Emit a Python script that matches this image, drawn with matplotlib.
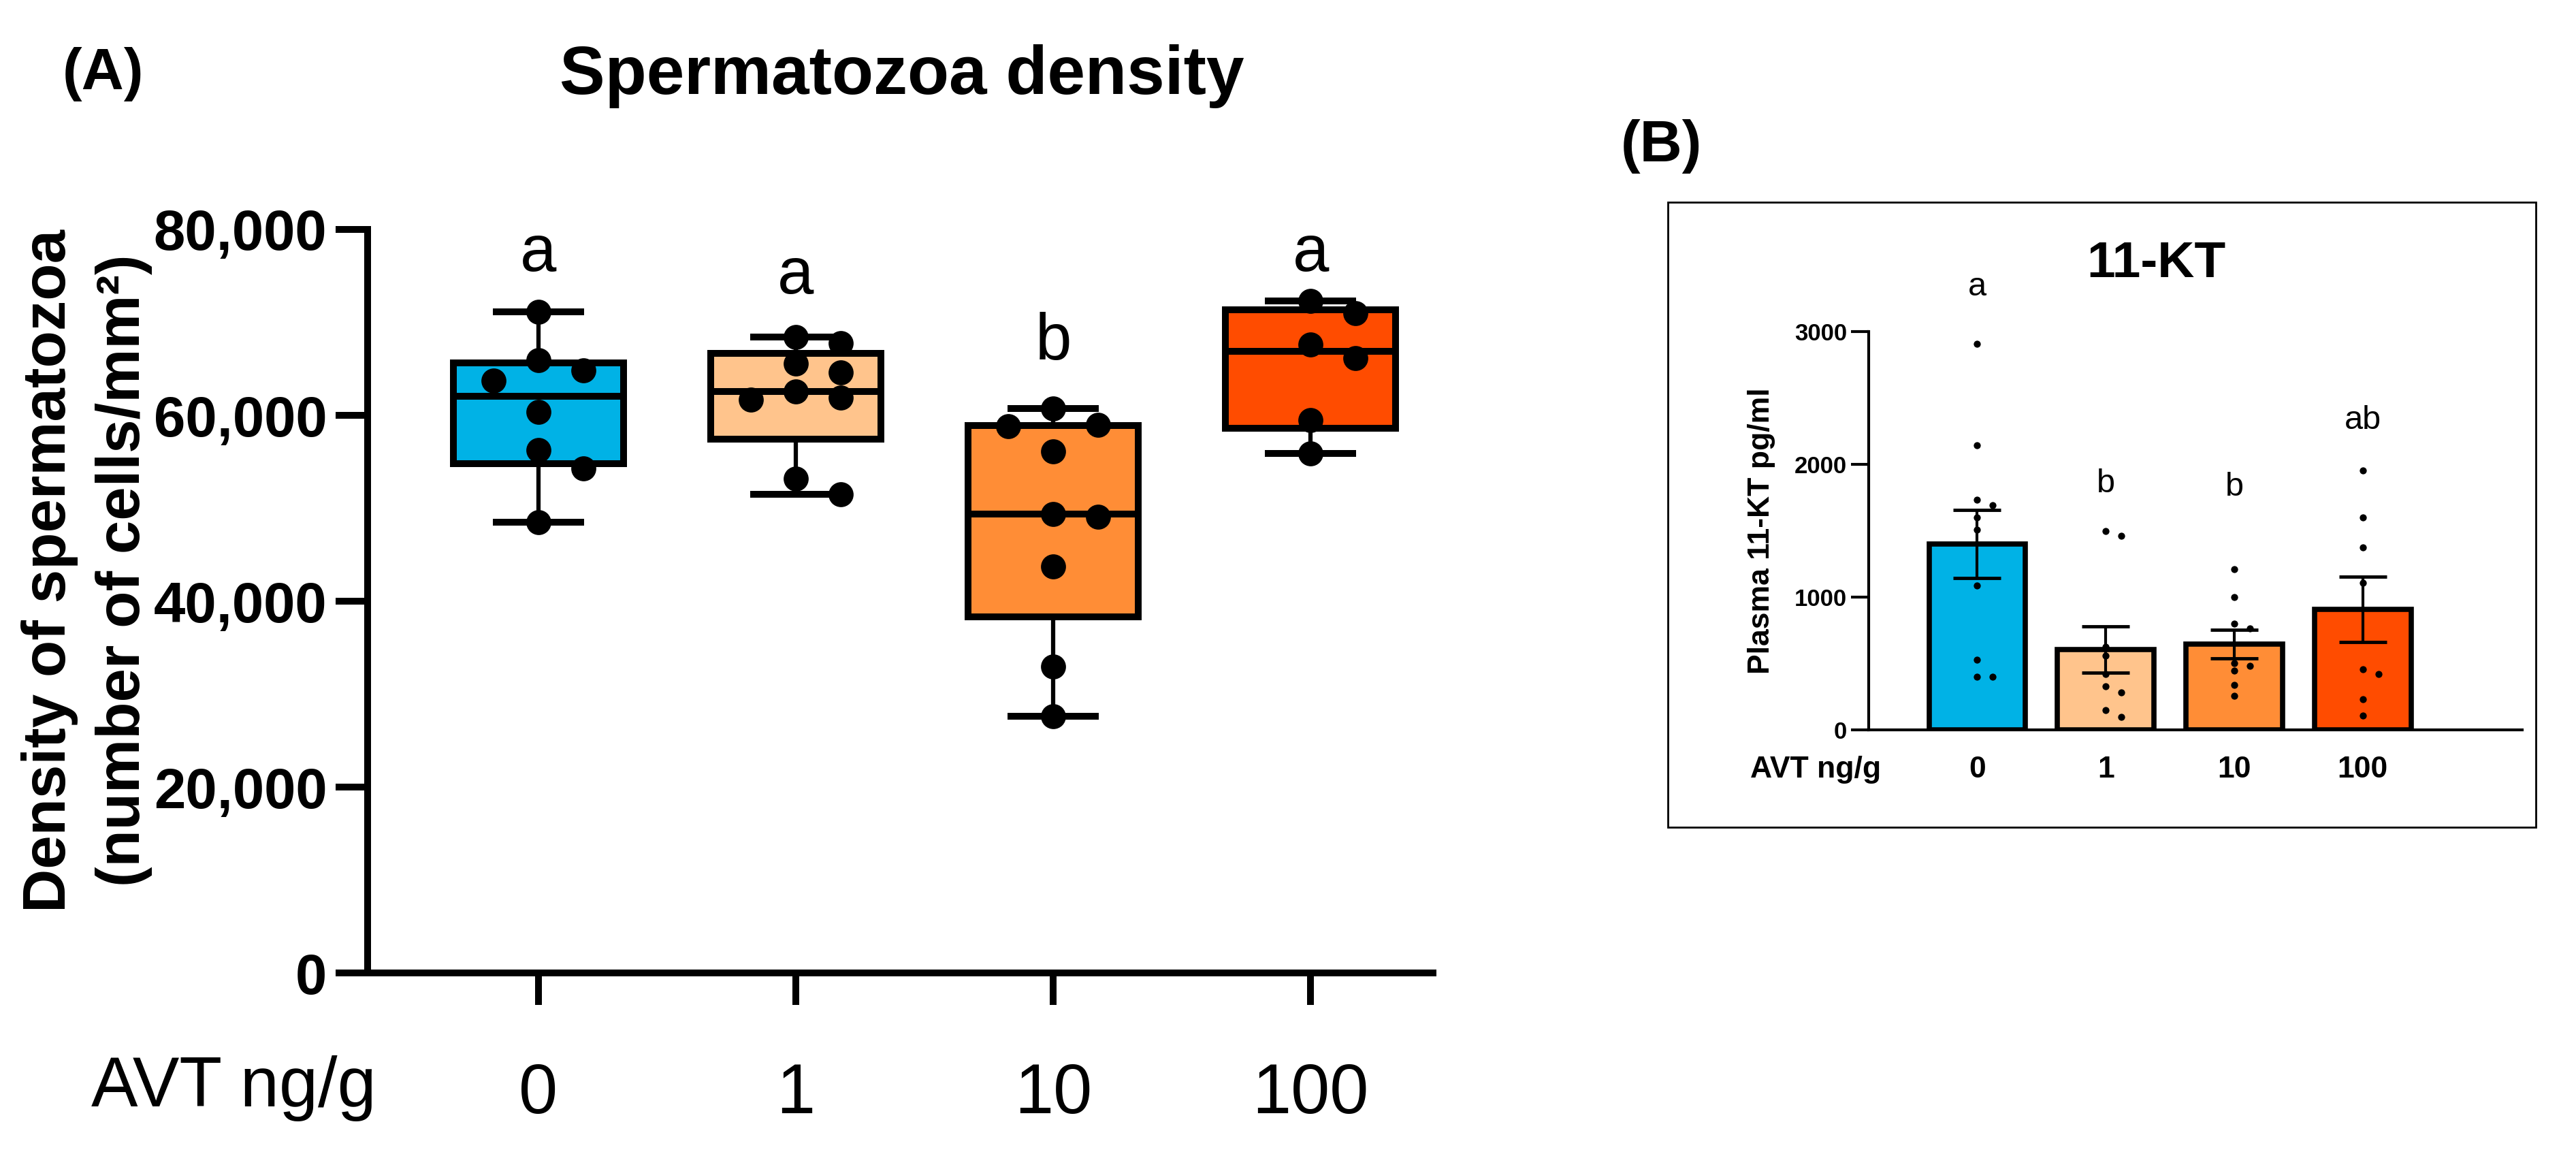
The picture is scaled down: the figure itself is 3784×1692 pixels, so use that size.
import numpy as np
import matplotlib
matplotlib.use("Agg")
import matplotlib.pyplot as plt
from matplotlib.patches import Rectangle

plt.rcParams['font.family'] = ['Liberation Sans', 'DejaVu Sans']

# ---- data ----
groups = ['0', '1', '10', '100']
colors = ['#00B2E6', '#FFC48C', '#FF8D36', '#FF4C00']

# panel A: spermatozoa density (cells/mm2)
density_0 = [71100, 65900, 64800, 63700, 60400, 56300, 54300, 48500]
density_1 = [68400, 67800, 65600, 64600, 62600, 61900, 61700, 53200, 51500]
density_10 = [60700, 59000, 58800, 56100, 49400, 49100, 43700, 33000, 27600]
density_100 = [72300, 71000, 67600, 66150, 59500, 55900]
letters_a = ['a', 'a', 'b', 'a']
letter_y_a = [75500, 73100, 66000, 75500]

# panel B: plasma 11-KT (pg/ml)
kt_0 = [2906, 2144, 1732, 1693, 1602, 1510, 1086, 526, 400, 400]
kt_1 = [1498, 1464, 628, 560, 423, 330, 280, 150, 100]
kt_10 = [1212, 1000, 800, 766, 503, 480, 446, 340, 258]
kt_100 = [1956, 1602, 1372, 1109, 456, 423, 230, 110]
letters_b = ['a', 'b', 'b', 'ab']
letter_y_b = [3272, 1790, 1764, 2267]

W, H = 3784, 1692


def px_rect(x0, y0, x1, y1):
    # pixel box (top-left origin) -> figure fraction rect
    return [x0 / W, 1 - y1 / H, (x1 - x0) / W, (y1 - y0) / H]


def swarm(vals, step, thr):
    vals = np.asarray(vals, float)
    offs = np.zeros(len(vals))
    placed = []
    for i in np.argsort(-vals):
        for k in [0, 1, -1, 2, -2]:
            if all(not (pk == k and abs(pv - vals[i]) < thr) for pk, pv in placed):
                break
        placed.append((k, vals[i]))
        offs[i] = k * step
    return offs


fig = plt.figure(figsize=(W / 100, H / 100), dpi=100)

# ================= panel A =================
axA = fig.add_axes(px_rect(540, 337, 2105, 1429))
dens = [density_0, density_1, density_10, density_100]
stats = []
for d in dens:
    d = np.asarray(d, float)
    q1, med, q3 = np.percentile(d, [25, 50, 75], method='weibull')
    stats.append(dict(med=med, q1=q1, q3=q3, whislo=d.min(), whishi=d.max(), fliers=[]))

lw = 7.2
bp = axA.bxp(stats, positions=range(4), widths=0.66, capwidths=0.33, patch_artist=True,
             showfliers=False,
             boxprops=dict(linewidth=lw, edgecolor='black'),
             medianprops=dict(linewidth=lw, color='black'),
             whiskerprops=dict(linewidth=4.5, color='black'),
             capprops=dict(linewidth=lw, color='black'))
for patch, c in zip(bp['boxes'], colors):
    patch.set_facecolor(c)

for i, d in enumerate(dens):
    offs = swarm(d, 0.175, 2700)
    axA.scatter(i + offs, d, s=700, color='black', zorder=5, linewidths=0)
    axA.text(i, letter_y_a[i], letters_a[i], ha='center', va='baseline', fontsize=69)

axA.set_xlim(-0.664, 3.476)
axA.set_ylim(0, 80000)
axA.set_yticks([0, 20000, 40000, 60000, 80000])
axA.yaxis.set_major_formatter(matplotlib.ticker.FuncFormatter(lambda v, p: f'{int(v):,}'))
axA.set_xticks(range(4))
axA.set_xticklabels(groups, fontsize=74)
for lab in axA.get_yticklabels():
    lab.set_fontweight('bold')
    lab.set_fontsize(60)
axA.tick_params(axis='both', length=34, width=lw, color='black')
axA.tick_params(axis='y', pad=9)
axA.tick_params(axis='x', pad=60)
for s in ['top', 'right']:
    axA.spines[s].set_visible(False)
for s in ['left', 'bottom']:
    axA.spines[s].set_linewidth(lw)
axA.spines['left'].set_capstyle('projecting')

fig.text(1325 / W, 1 - 112 / H, 'Spermatozoa density', ha='center', va='center',
         fontsize=72, fontweight='bold')
fig.text(152 / W, 1 - 109 / H, '(A)', ha='center', va='center', fontsize=62, fontweight='bold')
fig.text(73 / W, 1 - 838 / H, 'Density of spermatozoa', rotation=90, ha='center', va='center',
         fontsize=64, fontweight='bold')
fig.text(182 / W, 1 - 838 / H, '(number of cells/mm²)', rotation=90, ha='center', va='center',
         fontsize=64, fontweight='bold')
fig.text(134 / W, 1 - 1598 / H, 'AVT ng/g', ha='left', va='center', fontsize=74)

# ================= panel B =================
fig.patches.append(Rectangle((2450 / W, 1 - 1215 / H), (3725 - 2450) / W, (1215 - 297) / H,
                             transform=fig.transFigure, fill=False, edgecolor='black',
                             linewidth=2))
fig.text(2440 / W, 1 - 215 / H, '(B)', ha='center', va='center', fontsize=62, fontweight='bold')

axB = fig.add_axes(px_rect(2745, 487, 3705, 1072))
kts = [kt_0, kt_1, kt_10, kt_100]
means = [np.mean(k) for k in kts]
sems = [np.std(k, ddof=1) / np.sqrt(len(k)) for k in kts]
axB.bar(range(4), means, width=0.75, color=colors, edgecolor='black', linewidth=5.5, zorder=2)
axB.errorbar(range(4), means, yerr=sems, fmt='none', ecolor='black', elinewidth=3,
             capsize=25, capthick=3.5, zorder=4)
for i, k in enumerate(kts):
    offs = swarm(k, 0.12, 55)
    axB.scatter(i + offs, k, s=55, color='black', zorder=5, linewidths=0)
    axB.text(i, letter_y_b[i], letters_b[i], ha='center', va='baseline', fontsize=35)

axB.set_xlim(-0.844, 4.24)
axB.set_ylim(0, 3000)
axB.set_yticks([0, 1000, 2000, 3000])
axB.set_xticks([])
for lab in axB.get_yticklabels():
    lab.set_fontweight('bold')
    lab.set_fontsize(25)
axB.tick_params(axis='y', length=19, width=3, pad=4)
for s in ['top', 'right']:
    axB.spines[s].set_visible(False)
for s in ['left', 'bottom']:
    axB.spines[s].set_linewidth(3)
axB.set_title('11-KT', fontsize=54, fontweight='bold', pad=0, x=(3167 - 2745) / (3705 - 2745),
              y=(1072 - 378) / (1072 - 487) - 0.05)
axB.set_ylabel('Plasma 11-KT pg/ml', fontsize=32, fontweight='bold', labelpad=20)
for i, g in enumerate(groups):
    axB.text(i, -300, g, ha='center', va='center', fontsize=32, fontweight='bold')
axB.text(-0.75, -300, 'AVT ng/g', ha='right', va='center', fontsize=32, fontweight='bold')

fig.savefig('out.png', dpi=100, facecolor='white')
